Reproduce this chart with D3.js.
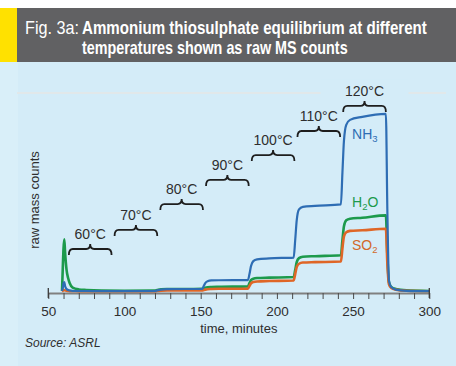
<!DOCTYPE html>
<html>
<head>
<meta charset="utf-8">
<script src="https://cdn.jsdelivr.net/npm/d3@7"></script>
<style>
  html, body { margin: 0; padding: 0; background: #ffffff; }
  svg { display: block; }
</style>
</head>
<body>
<svg id="chart" width="456" height="366"></svg>
<script>
// ---------------- DATA ----------------
const time = [59, 59.5, 60, 60.5, 61, 62, 63, 64, 66, 70, 75, 85, 100, 120, 121.5, 124, 128, 140, 151, 152, 153, 154.5, 157, 162, 181, 182, 183, 184.5, 187, 195, 211, 212, 213, 214.5, 217, 225, 242, 243, 244, 245.5, 248, 256, 271.5, 272.5, 273.5, 275, 278, 285, 300];

const nh3 = [0.5, 2, 4.5, 5, 3, 1.5, 1, 0.8, 0.6, 0.5, 0.5, 0.4, 0.4, 0.5, 0.8, 1.2, 1.4, 1.5, 1.5, 3, 4.5, 5.4, 5.8, 5.9, 6.0, 9, 13, 15.5, 16.4, 16.9, 17.3, 26, 36, 41.5, 42.8, 43.3, 44, 60, 76, 84, 86.5, 88, 89.5, 40, 6, 2.5, 1.2, 0.6, 0.4];

const h2o = [0.5, 12, 22, 26.5, 20, 11, 7, 4.5, 2.2, 1.3, 1, 0.7, 0.6, 0.7, 1.0, 1.4, 1.5, 1.5, 1.6, 1.9, 2.2, 2.4, 2.5, 2.6, 2.8, 4.5, 6.0, 6.7, 7.0, 7.2, 7.5, 11, 15, 17, 17.7, 18, 18.5, 26, 33, 36, 36.8, 37.3, 38.5, 18, 5, 2.5, 1.5, 0.8, 0.5];

const so2 = [0.3, 0.6, 0.9, 1, 0.8, 0.6, 0.5, 0.4, 0.4, 0.3, 0.3, 0.3, 0.3, 0.3, 0.5, 0.7, 0.8, 0.8, 0.8, 1.0, 1.2, 1.4, 1.5, 1.6, 1.7, 3, 4.3, 5, 5.3, 5.5, 5.8, 9, 12.5, 14.2, 14.8, 15, 15.3, 22, 28, 30, 30.7, 31, 31.8, 14, 4, 2, 1.2, 0.6, 0.4];

const seriesNames = ["H2O", "SO2", "NH3"];
const xTicks = [50, 100, 150, 200, 250, 300];

// temperature braces (annotation)
const tempLabels = ["60°C", "70°C", "80°C", "90°C", "100°C", "110°C", "120°C"];
const braceStart = [63.5, 93.5, 123.5, 153.5, 183.5, 213.5, 243.5];
const braceEnd   = [91.5, 121.5, 151.5, 181.5, 211.5, 241.5, 271.5];
const braceLevel = [21.6, 31.2, 44.2, 56.3, 68.8, 80.9, 93.5];

// series label positions (annotation)
const labelTime  = [249.3, 249.3, 249.3];
const labelLevel = [42.7, 21.1, 76.9];

// ---------------- LAYOUT ----------------
const svg = d3.select("#chart");
const W = 456, H = 366;
const colors = { NH3: "#2e6db4", H2O: "#1c9a4c", SO2: "#df6627" };
const labelColors = { NH3: "#2e6db4", H2O: "#1c9a4c", SO2: "#d2692a" };
const textCol = "#2e2e2e";

// backgrounds
svg.append("rect").attr("x", 0).attr("y", 0).attr("width", W).attr("height", H).attr("fill", "#ffffff");
svg.append("rect").attr("x", 0).attr("y", 62).attr("width", W).attr("height", H - 62).attr("fill", "#d4ecf8");
svg.append("rect").attr("x", 0).attr("y", 62).attr("width", 18).attr("height", H - 62).attr("fill", "#d9eff9");

// header
svg.append("rect").attr("x", 0).attr("y", 8).attr("width", W).attr("height", 54).attr("fill", "#616163");
svg.append("rect").attr("x", 0).attr("y", 8).attr("width", 17).attr("height", 54).attr("fill", "#ffe100");

const titleFont = "'Liberation Sans', Arial, sans-serif";
function condensedText(str, x0, y0, targetW, bold) {
  const g = svg.append("g");
  const t = g.append("text").attr("x", 0).attr("y", 0)
    .attr("font-family", titleFont).attr("font-size", 18)
    .attr("font-weight", bold ? "bold" : "normal").attr("fill", "#ffffff")
    .text(str);
  const w = t.node().getComputedTextLength();
  g.attr("transform", `translate(${x0}, ${y0}) scale(${targetW / w}, 1)`);
}
condensedText("Fig. 3a:", 25, 34, 54, false);
condensedText("Ammonium thiosulphate equilibrium at different", 82, 34, 345, true);
condensedText("temperatures shown as raw MS counts", 82, 54, 266, true);

// scales
const x = d3.scaleLinear().domain([50, 300]).range([48.3, 429.3]);
const y = d3.scaleLinear().domain([0, 100]).range([292, 93]);

const font = "'Liberation Sans', Arial, sans-serif";

// top faint grid line
svg.append("line").attr("x1", 17).attr("x2", 446).attr("y1", y(100)).attr("y2", y(100))
  .attr("stroke", "#e1e8ea").attr("stroke-width", 2);

// series lines
const line = d3.line().x((d, i) => x(time[i])).y(d => y(d)).curve(d3.curveMonotoneX);
const seriesData = { NH3: nh3, H2O: h2o, SO2: so2 };
seriesNames.forEach(name => {
  svg.append("path").datum(seriesData[name])
    .attr("fill", "none")
    .attr("stroke", colors[name])
    .attr("stroke-width", name === "NH3" ? 2.2 : 2.6)
    .attr("stroke-linejoin", "round")
    .attr("d", line);
});

// x axis
const xAxis = d3.axisBottom(x)
  .tickValues(d3.range(50, 301, 10))
  .tickSize(6).tickSizeOuter(0)
  .tickFormat(d => xTicks.includes(d) ? d : "");
const gx = svg.append("g").attr("transform", `translate(0, ${y(0) + 1})`).call(xAxis);
gx.select(".domain").attr("stroke", "#808080").attr("stroke-width", 2);
gx.selectAll(".tick line").attr("stroke", "#4a4a4a").attr("stroke-width", 1);
gx.selectAll(".tick text").attr("font-family", font).attr("font-size", 13.5)
  .attr("fill", textCol).attr("dy", "0.71em").attr("y", 13);
// end caps
[50, 300].forEach(v => {
  svg.append("line").attr("x1", x(v)).attr("x2", x(v))
    .attr("y1", y(0) - 4).attr("y2", y(0) + 6)
    .attr("stroke", "#3a3a3a").attr("stroke-width", 1.3);
});

svg.append("text").attr("x", x(175)).attr("y", 333)
  .attr("text-anchor", "middle").attr("font-family", font).attr("font-size", 13)
  .attr("fill", textCol).text("time, minutes");

// y label
svg.append("text")
  .attr("transform", `translate(39, 200) rotate(-90)`)
  .attr("text-anchor", "middle").attr("font-family", font).attr("font-size", 13)
  .attr("fill", textCol).text("raw mass counts");

// source
svg.append("text").attr("x", 25).attr("y", 347)
  .attr("font-family", font).attr("font-size", 12).attr("font-style", "italic")
  .attr("fill", textCol).text("Source: ASRL");

// braces
function bracePath(x0, x1, yb) {
  const xm = (x0 + x1) / 2;
  const r = 4;
  return `M${x0},${yb + 6} Q${x0},${yb} ${x0 + r},${yb} L${xm - r},${yb} Q${xm},${yb} ${xm},${yb - 5} Q${xm},${yb} ${xm + r},${yb} L${x1 - r},${yb} Q${x1},${yb} ${x1},${yb + 6}`;
}
tempLabels.forEach((lab, i) => {
  const x0 = x(braceStart[i]), x1 = x(braceEnd[i]), yb = y(braceLevel[i]);
  const xm = (x0 + x1) / 2;
  if (i === tempLabels.length - 1) {
    svg.append("rect").attr("x", xm - 44).attr("y", yb - 26).attr("width", 88).attr("height", 18)
      .attr("fill", "#d4ecf8");
  }
  svg.append("path").attr("d", bracePath(x0, x1, yb))
    .attr("fill", "none").attr("stroke", "#1e1e1e").attr("stroke-width", 1.8);
  svg.append("text").attr("x", xm).attr("y", yb - 10)
    .attr("text-anchor", "middle").attr("font-family", font).attr("font-size", 14)
    .attr("fill", textCol).text(lab);
});

// series labels with subscripts
const labelParts = {
  H2O: [["H", false], ["2", true], ["O", false]],
  SO2: [["SO", false], ["2", true]],
  NH3: [["NH", false], ["3", true]]
};
seriesNames.forEach((name, i) => {
  const t = svg.append("text").attr("x", x(labelTime[i])).attr("y", y(labelLevel[i]))
    .attr("font-family", font).attr("font-size", 14).attr("fill", labelColors[name]);
  labelParts[name].forEach(([s, sub]) => {
    const ts = t.append("tspan").text(s);
    if (sub) ts.attr("font-size", 9.5).attr("dy", 3);
    else ts.attr("dy", t.selectAll("tspan").size() > 1 ? -3 : 0);
  });
});
</script>
</body>
</html>
